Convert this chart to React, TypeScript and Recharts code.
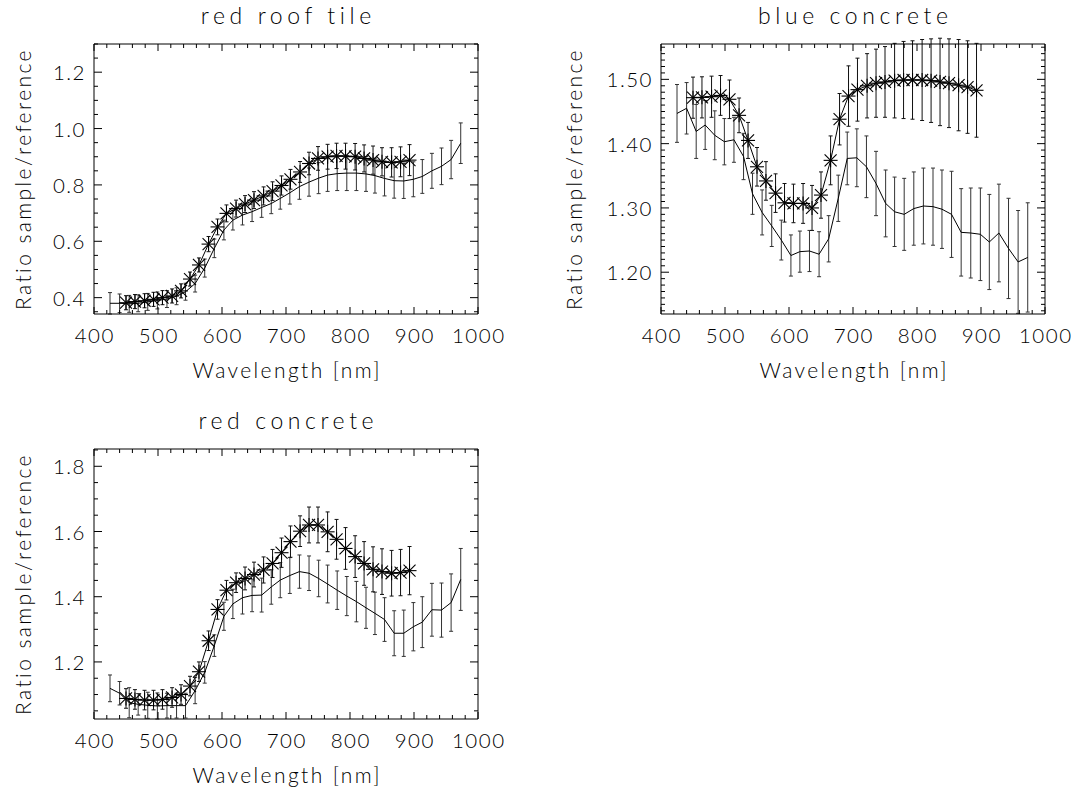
import React from "react";
import { ComposedChart, Line, XAxis, YAxis, ErrorBar } from "recharts";

const FONT = "Lato, 'Open Sans', 'DejaVu Sans', sans-serif";

// band centres of the broad-band spectrum (solid line) and of the asterisk series
const lineWavelengths = [
  425, 440, 455, 469, 484, 499, 514, 529, 543, 558, 573, 588, 603, 617, 632, 647, 662, 677, 691,
  706, 721, 736, 751, 765, 780, 795, 810, 825, 839, 854, 869, 884, 899, 913, 928, 943, 958, 973,
];
const starWavelengths = [
  450, 464, 479, 493, 507, 522, 536, 550, 564, 579, 593, 607, 622, 636, 650, 665, 679, 693, 707,
  722, 736, 750, 765, 779, 793, 808, 822, 836, 850, 865, 879, 893,
];

// red roof tile
const roofLine = [
  0.38, 0.38, 0.378, 0.38, 0.385, 0.39, 0.395, 0.405, 0.421, 0.45, 0.505, 0.575, 0.64, 0.675, 0.693,
  0.705, 0.72, 0.734, 0.752, 0.772, 0.794, 0.81, 0.824, 0.835, 0.84, 0.842, 0.842, 0.839, 0.833,
  0.823, 0.815, 0.814, 0.82, 0.83, 0.85, 0.866, 0.89, 0.948,
];
const roofLineErr = [
  0.038, 0.033, 0.03, 0.03, 0.03, 0.03, 0.03, 0.03, 0.03, 0.03, 0.032, 0.033, 0.035, 0.035, 0.035,
  0.035, 0.035, 0.036, 0.038, 0.04, 0.045, 0.05, 0.055, 0.058, 0.06, 0.062, 0.062, 0.062, 0.062,
  0.062, 0.062, 0.062, 0.062, 0.06, 0.062, 0.065, 0.068, 0.072,
];
const roofStar = [
  0.382, 0.386, 0.389, 0.394, 0.4, 0.406, 0.424, 0.466, 0.516, 0.59, 0.651, 0.699, 0.716, 0.732,
  0.746, 0.761, 0.778, 0.798, 0.82, 0.846, 0.876, 0.894, 0.9, 0.903, 0.902, 0.9, 0.894, 0.888, 0.882,
  0.88, 0.882, 0.888,
];
const roofStarErr = [
  0.025, 0.025, 0.025, 0.025, 0.025, 0.025, 0.025, 0.025, 0.025, 0.027, 0.028, 0.03, 0.03, 0.03,
  0.03, 0.032, 0.033, 0.034, 0.035, 0.037, 0.04, 0.042, 0.044, 0.045, 0.046, 0.047, 0.048, 0.05,
  0.05, 0.052, 0.053, 0.055,
];

// blue concrete
const blueLine = [
  1.447, 1.455, 1.419, 1.429, 1.413, 1.403, 1.406, 1.38, 1.322, 1.293, 1.272, 1.25, 1.226, 1.232,
  1.233, 1.228, 1.252, 1.315, 1.377, 1.378, 1.364, 1.338, 1.307, 1.294, 1.29, 1.299, 1.303, 1.302,
  1.298, 1.29, 1.262, 1.261, 1.259, 1.247, 1.261, 1.237, 1.216, 1.223,
];
const blueLineErr = [
  0.045, 0.04, 0.042, 0.038, 0.038, 0.036, 0.035, 0.036, 0.032, 0.035, 0.032, 0.031, 0.032, 0.032,
  0.032, 0.035, 0.036, 0.036, 0.041, 0.045, 0.048, 0.05, 0.052, 0.054, 0.056, 0.057, 0.059, 0.06,
  0.061, 0.067, 0.068, 0.07, 0.072, 0.074, 0.076, 0.078, 0.08, 0.085,
];
const blueStar = [
  1.4715, 1.472, 1.473, 1.475, 1.469, 1.444, 1.405, 1.364, 1.342, 1.323, 1.308, 1.307, 1.307, 1.3,
  1.32, 1.374, 1.438, 1.474, 1.484, 1.49, 1.494, 1.496, 1.498, 1.499, 1.499, 1.499, 1.498, 1.496,
  1.494, 1.491, 1.488, 1.483,
];
const blueStarErr = [
  0.032, 0.032, 0.032, 0.031, 0.03, 0.027, 0.028, 0.03, 0.03, 0.03, 0.03, 0.03, 0.031, 0.035, 0.036,
  0.038, 0.04, 0.047, 0.049, 0.05, 0.053, 0.055, 0.058, 0.06, 0.061, 0.063, 0.065, 0.068, 0.069,
  0.071, 0.072, 0.073,
];

// red concrete
const redLine = [
  1.119, 1.104, 1.075, 1.07, 1.067, 1.065, 1.066, 1.066, 1.066, 1.112, 1.168, 1.25, 1.34, 1.378,
  1.397, 1.404, 1.405, 1.43, 1.451, 1.465, 1.477, 1.472, 1.456, 1.439, 1.42, 1.402, 1.385, 1.366,
  1.349, 1.33, 1.288, 1.288, 1.308, 1.322, 1.36, 1.359, 1.382, 1.453,
];
const redLineErr = [
  0.041, 0.036, 0.046, 0.033, 0.04, 0.04, 0.038, 0.038, 0.038, 0.04, 0.033, 0.033, 0.043, 0.045,
  0.05, 0.05, 0.052, 0.053, 0.054, 0.055, 0.051, 0.053, 0.056, 0.058, 0.059, 0.06, 0.062, 0.063,
  0.065, 0.067, 0.069, 0.071, 0.074, 0.078, 0.081, 0.083, 0.088, 0.095,
];
const redStar = [
  1.088, 1.085, 1.083, 1.083, 1.085, 1.091, 1.1, 1.126, 1.17, 1.265, 1.361, 1.42, 1.443, 1.456,
  1.468, 1.482, 1.502, 1.535, 1.569, 1.601, 1.62, 1.62, 1.599, 1.576, 1.548, 1.523, 1.502, 1.484,
  1.477, 1.472, 1.474, 1.48,
];
const redStarErr = [
  0.03, 0.03, 0.03, 0.03, 0.03, 0.03, 0.03, 0.03, 0.03, 0.03, 0.03, 0.03, 0.03, 0.035, 0.038, 0.04,
  0.043, 0.045, 0.048, 0.047, 0.055, 0.055, 0.061, 0.061, 0.064, 0.064, 0.067, 0.069, 0.07, 0.07,
  0.071, 0.074,
];

// axis ticks: majors carry labels, minors are short marks
const xMajor = [400, 500, 600, 700, 800, 900, 1000];
const xMinor = [
  400, 420, 440, 460, 480, 500, 520, 540, 560, 580, 600, 620, 640, 660, 680, 700, 720, 740, 760,
  780, 800, 820, 840, 860, 880, 900, 920, 940, 960, 980, 1000,
];
const roofYMajor = [0.4, 0.6, 0.8, 1.0, 1.2];
const roofYMinor = [
  0.35, 0.4, 0.45, 0.5, 0.55, 0.6, 0.65, 0.7, 0.75, 0.8, 0.85, 0.9, 0.95, 1.0, 1.05, 1.1, 1.15, 1.2,
  1.25, 1.3,
];
const blueYMajor = [1.2, 1.3, 1.4, 1.5];
const blueYMinor = [
  1.14, 1.15, 1.16, 1.17, 1.18, 1.19, 1.2, 1.21, 1.22, 1.23, 1.24, 1.25, 1.26, 1.27, 1.28, 1.29,
  1.3, 1.31, 1.32, 1.33, 1.34, 1.35, 1.36, 1.37, 1.38, 1.39, 1.4, 1.41, 1.42, 1.43, 1.44, 1.45,
  1.46, 1.47, 1.48, 1.49, 1.5, 1.51, 1.52, 1.53, 1.54, 1.55,
];
const redYMajor = [1.2, 1.4, 1.6, 1.8];
const redYMinor = [
  1.05, 1.1, 1.15, 1.2, 1.25, 1.3, 1.35, 1.4, 1.45, 1.5, 1.55, 1.6, 1.65, 1.7, 1.75, 1.8, 1.85,
];

const PLOT_W = 384;
const PLOT_H = 270;
const CHART_W = 537;
const CHART_H = 400;
const X_AXIS_H = 30;
const TOP_AXIS_H = 10;
const Y_AXIS_W = 60;
const RIGHT_AXIS_W = 10;

type Row = { wl: number; v: number; err: number };

const toRows = (wl: number[], v: number[], e: number[]): Row[] =>
  wl.map((w, i) => ({ wl: w, v: v[i], err: e[i] }));

const isIn = (list: number[], v: number) => list.some((m) => Math.abs(m - v) < 1e-6);

const tickText = { fontFamily: FONT, fontSize: 20.5, fill: "#000", fontWeight: 300, letterSpacing: 1.5 };
const axisText = { ...tickText, fontSize: 21, letterSpacing: 2.4 };
const titleText = { ...tickText, fontSize: 23, letterSpacing: 4.6 };

const Asterisk = (props: any) => {
  const { cx, cy } = props;
  if (cx == null || cy == null) return null;
  const r = 7;
  const d = 6;
  return (
    <g stroke="#000" strokeWidth={1.1}>
      <line x1={cx - r} y1={cy} x2={cx + r} y2={cy} />
      <line x1={cx} y1={cy - r} x2={cx} y2={cy + r} />
      <line x1={cx - d} y1={cy - d} x2={cx + d} y2={cy + d} />
      <line x1={cx - d} y1={cy + d} x2={cx + d} y2={cy - d} />
    </g>
  );
};

type PanelProps = {
  title: string;
  left: number;
  top: number;
  plotLeft: number;
  plotTop: number;
  yDomain: [number, number];
  yMajor: number[];
  yMinor: number[];
  digits: number;
  yLabelGap: number;
  lineRows: Row[];
  starRows: Row[];
};

const Panel = (p: PanelProps) => {
  const plotBottom = p.plotTop + PLOT_H;
  const plotRight = p.plotLeft + PLOT_W;
  const margin = {
    left: p.plotLeft - Y_AXIS_W,
    top: p.plotTop - TOP_AXIS_H,
    right: CHART_W - plotRight - RIGHT_AXIS_W,
    bottom: CHART_H - plotBottom - X_AXIS_H,
  };
  const cx = p.plotLeft + PLOT_W / 2;
  const cy = p.plotTop + PLOT_H / 2;

  // inward tick marks on all four sides, labels only on bottom and left
  const bottomTick = (t: any) => {
    const v = t.payload.value;
    const major = isIn(xMajor, v);
    return (
      <g key={`xb-${v}`}>
        <line x1={t.x} x2={t.x} y1={plotBottom} y2={plotBottom - (major ? 7 : 4)} stroke="#000" />
        {major && (
          <text x={t.x + 0.75} y={plotBottom + 21} textAnchor="middle" dominantBaseline="central" style={tickText}>
            {v}
          </text>
        )}
      </g>
    );
  };
  const topTick = (t: any) => {
    const v = t.payload.value;
    const major = isIn(xMajor, v);
    return (
      <line key={`xt-${v}`} x1={t.x} x2={t.x} y1={p.plotTop} y2={p.plotTop + (major ? 7 : 4)} stroke="#000" />
    );
  };
  const leftTick = (t: any) => {
    const v = t.payload.value;
    const major = isIn(p.yMajor, v);
    return (
      <g key={`yl-${v}`}>
        <line x1={p.plotLeft} x2={p.plotLeft + (major ? 8 : 4)} y1={t.y} y2={t.y} stroke="#000" />
        {major && (
          <text x={p.plotLeft - 8} y={t.y} textAnchor="end" dominantBaseline="central" style={tickText}>
            {v.toFixed(p.digits)}
          </text>
        )}
      </g>
    );
  };
  const rightTick = (t: any) => {
    const v = t.payload.value;
    const major = isIn(p.yMajor, v);
    return (
      <line key={`yr-${v}`} x1={plotRight} x2={plotRight - (major ? 8 : 4)} y1={t.y} y2={t.y} stroke="#000" />
    );
  };

  const common = {
    type: "number" as const,
    allowDataOverflow: true,
    interval: 0 as const,
    tickLine: false,
    axisLine: { stroke: "#000" },
  };

  return (
    <div style={{ position: "absolute", left: p.left, top: p.top }}>
      <ComposedChart width={CHART_W} height={CHART_H} margin={margin}>
        <XAxis
          {...common}
          xAxisId="b"
          dataKey="wl"
          orientation="bottom"
          domain={[400, 1000]}
          height={X_AXIS_H}
          ticks={xMinor}
          tick={bottomTick}
          label={{
            content: () => (
              <text x={cx + 1.2} y={plotBottom + 55} textAnchor="middle" dominantBaseline="central" style={axisText}>
                Wavelength [nm]
              </text>
            ),
          }}
        />
        <XAxis
          {...common}
          xAxisId="t"
          dataKey="wl"
          orientation="top"
          domain={[400, 1000]}
          height={TOP_AXIS_H}
          ticks={xMinor}
          tick={topTick}
          label={{
            content: () => (
              <text x={cx + 2.3} y={p.plotTop - 29} textAnchor="middle" dominantBaseline="central" style={titleText}>
                {p.title}
              </text>
            ),
          }}
        />
        <YAxis
          {...common}
          yAxisId="l"
          orientation="left"
          domain={p.yDomain}
          width={Y_AXIS_W}
          ticks={p.yMinor}
          tick={leftTick}
          label={{
            content: () => (
              <text
                x={p.plotLeft - p.yLabelGap}
                y={cy}
                textAnchor="middle"
                dominantBaseline="central"
                transform={`rotate(-90 ${p.plotLeft - p.yLabelGap} ${cy})`}
                style={axisText}
              >
                Ratio sample/reference
              </text>
            ),
          }}
        />
        <YAxis
          {...common}
          yAxisId="r"
          orientation="right"
          domain={p.yDomain}
          width={RIGHT_AXIS_W}
          ticks={p.yMinor}
          tick={rightTick}
        />

        <Line
          xAxisId="b"
          yAxisId="l"
          data={p.lineRows}
          dataKey="v"
          type="linear"
          stroke="#000"
          strokeWidth={1}
          dot={false}
          activeDot={false}
          isAnimationActive={false}
        >
          <ErrorBar dataKey="err" direction="y" width={2} stroke="#333" strokeWidth={1} />
        </Line>
        <Line
          xAxisId="b"
          yAxisId="l"
          data={p.starRows}
          dataKey="v"
          type="linear"
          stroke="#000"
          strokeWidth={1}
          dot={(d: any) => <Asterisk key={`s-${d.index}`} cx={d.cx} cy={d.cy} />}
          activeDot={false}
          isAnimationActive={false}
        >
          <ErrorBar dataKey="err" direction="y" width={2} stroke="#111" strokeWidth={1} />
        </Line>
      </ComposedChart>
    </div>
  );
};

export default function App() {
  return (
    <div
      style={{
        position: "absolute",
        left: 0,
        top: 0,
        width: 1074,
        height: 789,
        background: "#fff",
        overflow: "hidden",
      }}
    >
      <Panel
        title="red roof tile"
        left={0}
        top={0}
        plotLeft={94}
        plotTop={44}
        yDomain={[0.342, 1.3]}
        yMajor={roofYMajor}
        yMinor={roofYMinor}
        digits={1}
        yLabelGap={72}
        lineRows={toRows(lineWavelengths, roofLine, roofLineErr)}
        starRows={toRows(starWavelengths, roofStar, roofStarErr)}
      />
      <Panel
        title="blue concrete"
        left={537}
        top={0}
        plotLeft={124}
        plotTop={44}
        yDomain={[1.135, 1.555]}
        yMajor={blueYMajor}
        yMinor={blueYMinor}
        digits={2}
        yLabelGap={88}
        lineRows={toRows(lineWavelengths, blueLine, blueLineErr)}
        starRows={toRows(starWavelengths, blueStar, blueStarErr)}
      />
      <Panel
        title="red concrete"
        left={0}
        top={400}
        plotLeft={94}
        plotTop={49}
        yDomain={[1.025, 1.853]}
        yMajor={redYMajor}
        yMinor={redYMinor}
        digits={1}
        yLabelGap={72}
        lineRows={toRows(lineWavelengths, redLine, redLineErr)}
        starRows={toRows(starWavelengths, redStar, redStarErr)}
      />
    </div>
  );
}
